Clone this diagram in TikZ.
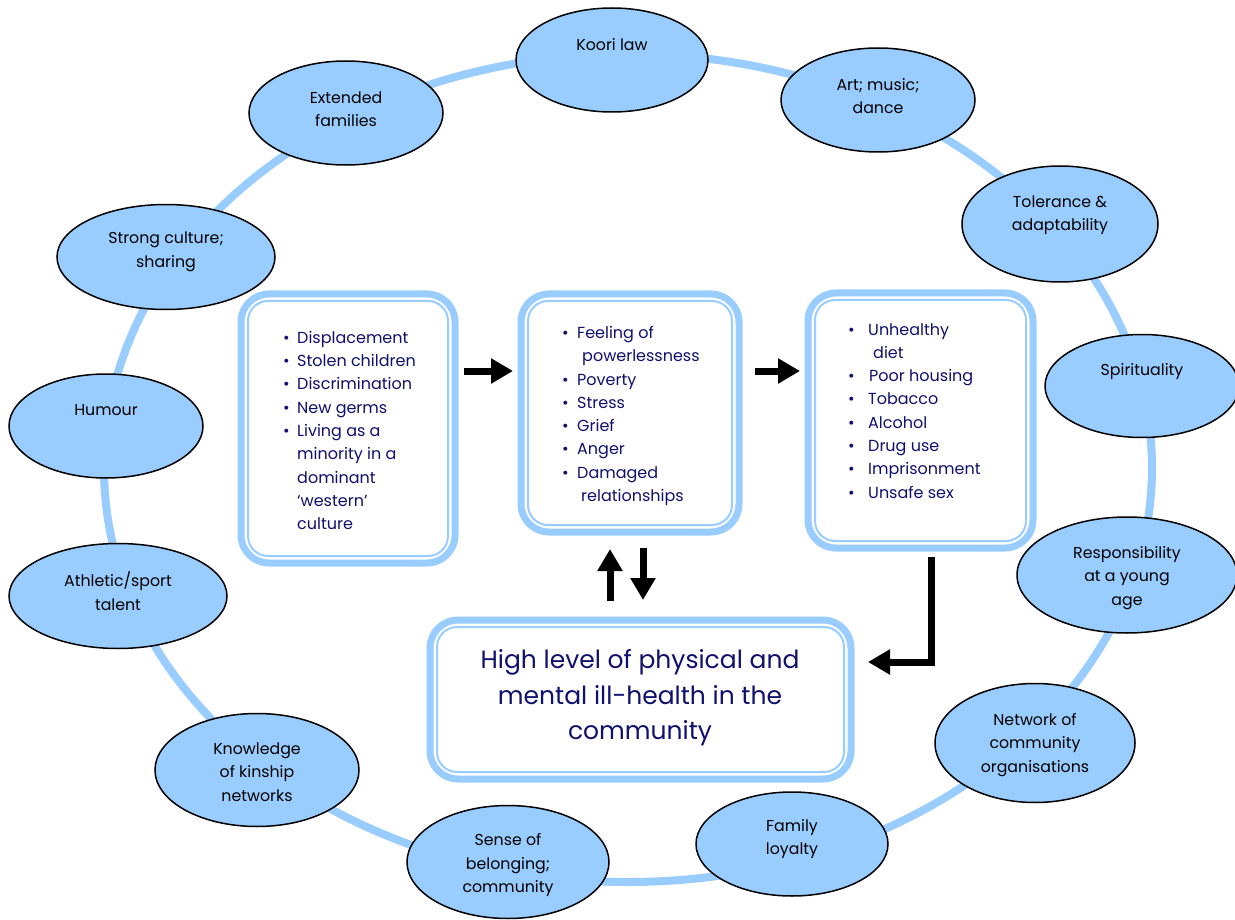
\documentclass[tikz,border=0pt]{standalone}
\usepackage{fontspec}
\setmainfont{Poppins}
\usetikzlibrary{arrows.meta}
\usetikzlibrary{shapes.geometric}

\definecolor{ringblue}{RGB}{153,204,255}
\definecolor{navy}{RGB}{16,16,110}

\tikzset{
  bubble/.style={ellipse, draw=black, line width=1.5pt, fill=ringblue, inner sep=0pt},
  bubtext/.style={align=center, font=\fontsize{15.8}{23.5}\selectfont, inner sep=0pt},
  boxout/.style={draw=ringblue, line width=7pt, rounded corners=28pt, fill=white, inner sep=0pt, outer sep=0pt},
  boxin/.style={draw=ringblue, line width=2pt, rounded corners=20pt},
  listtext/.style={align=left, text=navy, font=\fontsize{16}{23.3}\selectfont, inner sep=0pt, anchor=north west},
  bigarrow/.style={line width=7pt, line join=miter, -{Triangle[width=24pt,length=22pt]}},
}
\newcommand{\itm}[1][14pt]{\makebox[#1][l]{\textbullet}}

\begin{document}
\begin{tikzpicture}[x=1pt, y=-1pt]
  \useasboundingbox (0,0) rectangle (1235,920);

  % the ring
  \draw[ringblue, line width=8pt] (628,468) ellipse [x radius=524, y radius=414];

  % the four boxes
  \node[boxout, minimum width=214pt, minimum height=269pt] (cause) at (348,428.5) {};
  \draw[boxin] ([xshift=7pt,yshift=-7pt]cause.north west) rectangle ([xshift=-7pt,yshift=7pt]cause.south east);
  \node[boxout, minimum width=218pt, minimum height=238pt] (stress) at (630,413) {};
  \draw[boxin] ([xshift=7pt,yshift=-7pt]stress.north west) rectangle ([xshift=-7pt,yshift=7pt]stress.south east);
  \node[boxout, minimum width=225pt, minimum height=255pt] (risk) at (920.5,420.5) {};
  \draw[boxin] ([xshift=7pt,yshift=-7pt]risk.north west) rectangle ([xshift=-7pt,yshift=7pt]risk.south east);
  \node[boxout, minimum width=421pt, minimum height=159pt] (health) at (640.5,699.5) {};
  \draw[boxin] ([xshift=7pt,yshift=-7pt]health.north west) rectangle ([xshift=-7pt,yshift=7pt]health.south east);

  \node[listtext] (cause-t) at (283,331) {\itm Displacement\\
    \itm Stolen children\\
    \itm Discrimination\\
    \itm New germs\\
    \itm Living as a\\
    \hspace*{14pt}minority in a\\
    \hspace*{14pt}dominant\\
    \hspace*{14pt}‘western’\\
    \hspace*{14pt}culture};
  \node[listtext] (stress-t) at (562,326) {\itm[15pt]Feeling of\\
    \hspace*{20pt}powerlessness\\
    \itm[15pt]Poverty\\
    \itm[15pt]Stress\\
    \itm[15pt]Grief\\
    \itm[15pt]Anger\\
    \itm[15pt]Damaged\\
    \hspace*{19pt}relationships};
  \node[listtext] (risk-t) at (848,323) {\itm[20pt]Unhealthy\\
    \hspace*{25pt}diet\\
    \itm[21pt]Poor housing\\
    \itm[20pt]Tobacco\\
    \itm[20pt]Alcohol\\
    \itm[20pt]Drug use\\
    \itm[20pt]Imprisonment\\
    \itm[20pt]Unsafe sex};
  \node[align=center, text=navy, font=\fontsize{25}{35.5}\selectfont, inner sep=0pt] (health-t) at (640,698)
    {High level of physical and\\ mental ill-health in the\\ community};

  % arrows
  \coordinate (row) at (0,371);
  \coordinate (upx) at (610,0);
  \coordinate (downx) at (643,0);
  \coordinate (bend) at (931,662);
  \draw[bigarrow, shorten <=9pt, shorten >=8pt] (cause.east |- row) -- (stress.west |- row);
  \draw[bigarrow, shorten <=16pt, shorten >=8pt] (stress.east |- row) -- (risk.west |- row);
  \draw[bigarrow, shorten <=19pt, shorten >=17pt] (health.north -| upx) -- (stress.south -| upx);
  \draw[bigarrow, shorten <=16pt, shorten >=20pt] (stress.south -| downx) -- (health.north -| downx);
  \draw[bigarrow, shorten <=9pt, shorten >=17pt] (risk.south -| bend) |- (health.east |- bend);

  % strengths round the ring
  \node[bubble, minimum width=192pt, minimum height=104pt] (koori) at (612,60) {};
  \node[bubtext] (koori-t) at (612,45) {Koori law};
  \node[bubble, minimum width=194pt, minimum height=104pt] (art) at (878,100) {};
  \node[bubtext] (art-t) at (878,96) {Art; music;\\ dance};
  \node[bubble, minimum width=196pt, minimum height=116pt] (tolerance) at (1060,224) {};
  \node[bubtext] (tolerance-t) at (1060,215) {Tolerance \&\\ adaptability};
  \node[bubble, minimum width=194pt, minimum height=103pt] (spirit) at (1142,386) {};
  \node[bubtext] (spirit-t) at (1142,372) {Spirituality};
  \node[bubble, minimum width=220pt, minimum height=116pt] (young) at (1127,575) {};
  \node[bubtext] (young-t) at (1127,578) {Responsibility\\ at a young\\ age};
  \node[bubble, minimum width=200pt, minimum height=119pt] (network) at (1035,743) {};
  \node[bubtext] (network-t) at (1035,745) {Network of\\ community\\ organisations};
  \node[bubble, minimum width=192pt, minimum height=104pt] (family) at (792,844) {};
  \node[bubtext] (family-t) at (792,839) {Family\\ loyalty};
  \node[bubble, minimum width=202pt, minimum height=113pt] (belong) at (508,862) {};
  \node[bubtext] (belong-t) at (508,865) {Sense of\\ belonging;\\ community};
  \node[bubble, minimum width=204pt, minimum height=113pt] (kinship) at (257,770) {};
  \node[bubtext] (kinship-t) at (257,772) {Knowledge\\ of kinship\\ networks};
  \node[bubble, minimum width=218pt, minimum height=105pt] (sport) at (118,596) {};
  \node[bubtext] (sport-t) at (118,591) {Athletic/sport\\ talent};
  \node[bubble, minimum width=194pt, minimum height=104pt] (humour) at (106,426) {};
  \node[bubtext] (humour-t) at (106,410) {Humour};
  \node[bubble, minimum width=218pt, minimum height=105pt] (culture) at (166,257) {};
  \node[bubtext] (culture-t) at (166,252) {Strong culture;\\ sharing};
  \node[bubble, minimum width=194pt, minimum height=104pt] (extended) at (346,113) {};
  \node[bubtext] (extended-t) at (346,109) {Extended\\ families};
\end{tikzpicture}
\end{document}
